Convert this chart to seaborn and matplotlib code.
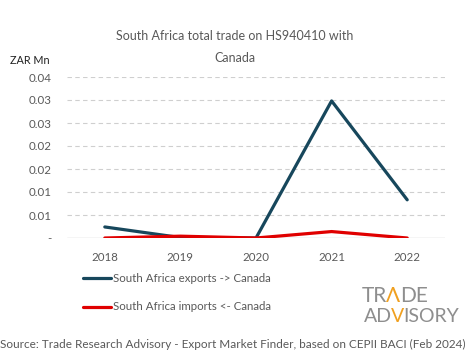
import matplotlib
matplotlib.use("Agg")
import matplotlib.pyplot as plt
import seaborn as sns
import pandas as pd
from matplotlib.ticker import FixedLocator, FixedFormatter
from matplotlib.lines import Line2D

years = ["2018", "2019", "2020", "2021", "2022"]
exports = [0.0024, 0.0001, 0.0, 0.0298, 0.0083]
imports = [0.0, 0.0004, 0.0, 0.0014, 0.0]
ytick_vals = [0, 0.005, 0.01, 0.015, 0.02, 0.025, 0.03, 0.035]
ytick_labels = ["-", "0.01", "0.01", "0.02", "0.02", "0.03", "0.03", "0.04"]
series_names = ["South Africa exports -> Canada", "South Africa imports <- Canada"]

sns.set_theme(style="white")
plt.rcParams["font.family"] = ["Lato", "DejaVu Sans"]

df = pd.DataFrame({
    "year": years * 2,
    "value": exports + imports,
    "series": [series_names[0]] * 5 + [series_names[1]] * 5,
})

W, H = 465, 359
fig = plt.figure(figsize=(W / 100, H / 100), dpi=100)
ax = fig.add_axes([67 / W, 1 - 238 / H, 378 / W, 161 / H])
grey = "#595959"
palette = {series_names[0]: "#17475C", series_names[1]: "#E00000"}
sns.lineplot(data=df, x="year", y="value", hue="series", palette=palette,
             linewidth=2.3, ax=ax, legend=False, sort=False)

ax.set_xlim(-0.5, 4.5)
ax.set_ylim(0, 0.035)
ax.yaxis.set_major_locator(FixedLocator(ytick_vals))
ax.yaxis.set_major_formatter(FixedFormatter(ytick_labels))
for v in ytick_vals[1:]:
    ax.axhline(v, color="#CFCFCF", lw=0.8, ls=(0, (4, 3)), zorder=0)
ax.axhline(0, color="#CFCFCF", lw=1.0, zorder=0)
for s in ax.spines.values():
    s.set_visible(False)
ax.tick_params(axis="both", length=0, labelsize=8.3, labelcolor=grey)
ax.tick_params(axis="y", pad=11)
ax.tick_params(axis="x", pad=10)
ax.set_xlabel("")
ax.set_ylabel("")

fig.text(235 / W, 1 - 36 / H, "South Africa total trade on HS940410 with", ha="center", va="center",
         fontsize=9.0, color=grey)
fig.text(235 / W, 1 - 58 / H, "Canada", ha="center", va="center", fontsize=9.0, color=grey)
fig.text(10 / W, 1 - 60 / H, "ZAR Mn", ha="left", va="center", fontsize=7.8, color="#222222")

# legend
for name, y in zip(series_names, [278, 307]):
    yy = 1 - y / H
    fig.add_artist(Line2D([83 / W, 111 / W], [yy, yy], color=palette[name], lw=2.3))
    fig.text(113 / W, yy, name, ha="left", va="center", fontsize=8.3, color=grey)

fig.text(0.0, 1 - 344 / H,
         "Source: Trade Research Advisory - Export Market Finder, based on CEPII BACI (Feb 2024)",
         ha="left", va="center", fontsize=8.5, color=grey)

# logo
logo_grey = "#8E8E8E"
orange = "#F0A020"
renderer = fig.canvas.get_renderer()


def seq_text(x_px, y_px, parts, size):
    x = x_px
    for s, c in parts:
        t = fig.text(x / W, 1 - y_px / H, s, ha="left", va="baseline", fontsize=size,
                     color=c, fontweight="normal")
        bb = t.get_window_extent(renderer=renderer)
        x += bb.width - 0.8


seq_text(362, 302, [("TR", logo_grey), ("Λ", orange), ("DE", logo_grey)], 15)
seq_text(364, 322, [("AD", logo_grey), ("V", orange), ("ISORY", logo_grey)], 14)

fig.savefig("out.png", dpi=100)
